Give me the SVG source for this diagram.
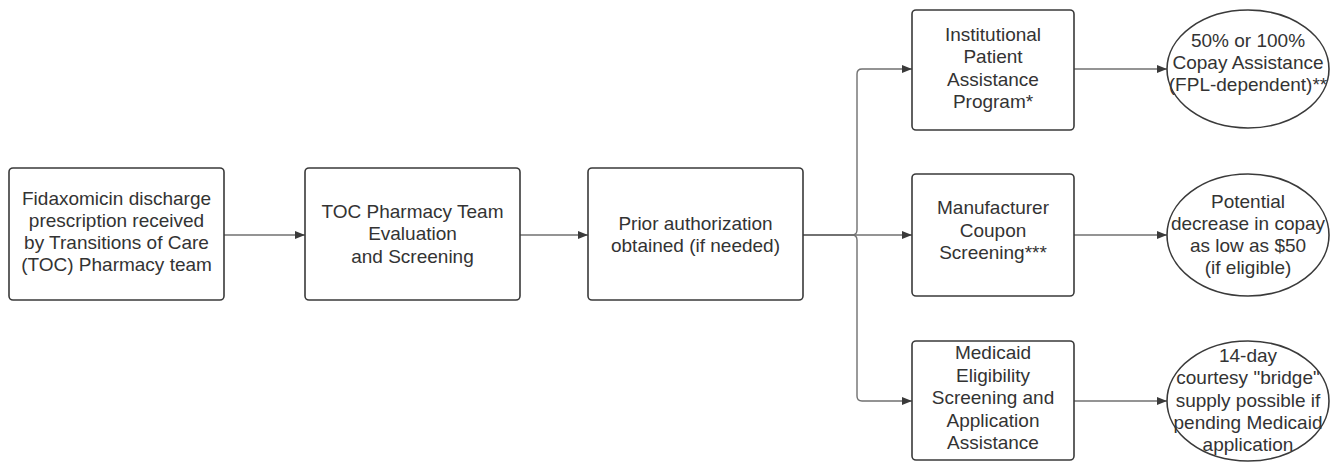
<svg xmlns="http://www.w3.org/2000/svg" width="1331" height="462" viewBox="0 0 1331 462">
  <defs>
    <marker id="arrow" viewBox="0 0 10 8" refX="10" refY="4" markerWidth="10" markerHeight="8" markerUnits="userSpaceOnUse" orient="auto">
      <path d="M0,0 L10,4 L0,8 Z" fill="#3a3a3a"/>
    </marker>
    <style>
      .box { fill: #ffffff; stroke: #3a3a3a; stroke-width: 1.6; }
      .oval { fill: #ffffff; stroke: #3a3a3a; stroke-width: 1.6; }
      .edge { fill: none; stroke: #707070; stroke-width: 1.4; }
      .lbl { font-family: "Liberation Sans", Arial, sans-serif; font-size: 19px; fill: #333333; text-anchor: middle; }
    </style>
  </defs>
  <rect width="1331" height="462" fill="#ffffff"/>

  <!-- connectors -->
  <g id="connectors">
    <path class="edge" d="M224,235 H305" marker-end="url(#arrow)"/>
    <path class="edge" d="M520,235 H588" marker-end="url(#arrow)"/>
    <path class="edge" d="M803,235 H852 Q857,235 857,230 V74 Q857,69 862,69 H912" marker-end="url(#arrow)"/>
    <path class="edge" d="M803,235 H912" marker-end="url(#arrow)"/>
    <path class="edge" d="M803,235 H852 Q857,235 857,240 V396 Q857,401 862,401 H912" marker-end="url(#arrow)"/>
    <path class="edge" d="M1074,69 H1167" marker-end="url(#arrow)"/>
    <path class="edge" d="M1074,235 H1167" marker-end="url(#arrow)"/>
    <path class="edge" d="M1074,401 H1167" marker-end="url(#arrow)"/>
  </g>

  <!-- process steps -->
  <g id="prescription">
    <rect class="box" x="9" y="168" width="215" height="132" rx="4"/>
    <text class="lbl" x="116.5" y="205">Fidaxomicin discharge</text>
    <text class="lbl" x="116.5" y="227">prescription received</text>
    <text class="lbl" x="116.5" y="249">by Transitions of Care</text>
    <text class="lbl" x="116.5" y="271">(TOC) Pharmacy team</text>
  </g>

  <g id="evaluation">
    <rect class="box" x="305" y="168" width="215" height="132" rx="4"/>
    <text class="lbl" x="412.5" y="218">TOC Pharmacy Team</text>
    <text class="lbl" x="412.5" y="240">Evaluation</text>
    <text class="lbl" x="412.5" y="263">and Screening</text>
  </g>

  <g id="prior-auth">
    <rect class="box" x="588" y="168" width="215" height="132" rx="4"/>
    <text class="lbl" x="695.5" y="230">Prior authorization</text>
    <text class="lbl" x="695.5" y="252">obtained (if needed)</text>
  </g>

  <g id="institutional">
    <rect class="box" x="912" y="10" width="162" height="120" rx="4"/>
    <text class="lbl" x="993" y="41">Institutional</text>
    <text class="lbl" x="993" y="63">Patient</text>
    <text class="lbl" x="993" y="86">Assistance</text>
    <text class="lbl" x="993" y="108">Program*</text>
  </g>

  <g id="manufacturer">
    <rect class="box" x="912" y="174" width="162" height="122" rx="4"/>
    <text class="lbl" x="993" y="214">Manufacturer</text>
    <text class="lbl" x="993" y="237">Coupon</text>
    <text class="lbl" x="993" y="259">Screening***</text>
  </g>

  <g id="medicaid">
    <rect class="box" x="912" y="341" width="162" height="119" rx="4"/>
    <text class="lbl" x="993" y="359">Medicaid</text>
    <text class="lbl" x="993" y="382">Eligibility</text>
    <text class="lbl" x="993" y="404">Screening and</text>
    <text class="lbl" x="993" y="427">Application</text>
    <text class="lbl" x="993" y="449">Assistance</text>
  </g>

  <!-- outcomes -->
  <g id="copay-assistance">
    <ellipse class="oval" cx="1248" cy="69" rx="81" ry="59"/>
    <text class="lbl" x="1248" y="47">50% or 100%</text>
    <text class="lbl" x="1248" y="69">Copay Assistance</text>
    <text class="lbl" x="1248" y="91">(FPL-dependent)**</text>
  </g>

  <g id="copay-decrease">
    <ellipse class="oval" cx="1248" cy="235" rx="81" ry="61"/>
    <text class="lbl" x="1248" y="208">Potential</text>
    <text class="lbl" x="1248" y="230">decrease in copay</text>
    <text class="lbl" x="1248" y="252">as low as $50</text>
    <text class="lbl" x="1248" y="274">(if eligible)</text>
  </g>

  <g id="bridge-supply">
    <ellipse class="oval" cx="1248" cy="401" rx="81" ry="60"/>
    <text class="lbl" x="1248" y="362">14-day</text>
    <text class="lbl" x="1248" y="384">courtesy "bridge"</text>
    <text class="lbl" x="1248" y="407">supply possible if</text>
    <text class="lbl" x="1248" y="429">pending Medicaid</text>
    <text class="lbl" x="1248" y="451">application</text>
  </g>
</svg>
